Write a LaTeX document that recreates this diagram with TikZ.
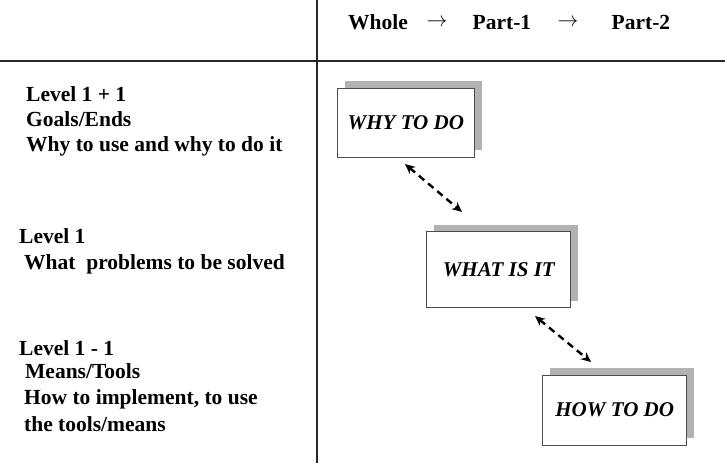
\documentclass[tikz,border=0pt]{standalone}
\usepackage{fontspec}
\setmainfont{Liberation Serif}
\usetikzlibrary{arrows.meta,shadows}
\begin{document}
\begin{tikzpicture}[x=1pt,y=-1pt,
  label/.style={anchor=base west,inner sep=0pt,font=\fontsize{21.5}{25}\selectfont\bfseries},
  headarrow/.style={inner sep=0pt,font=\fontsize{21}{24}\selectfont},
  levelbox/.style={draw=black!70,line width=0.9pt,fill=white,inner sep=0pt,
    font=\fontsize{21}{25}\selectfont\bfseries\itshape,
    drop shadow={shadow xshift=7.5pt,shadow yshift=7pt,fill=black!30,opacity=1}},
  link/.style={line width=2.4pt,dash pattern=on 7pt off 5pt,
    {Stealth[length=10pt,width=9pt]}-{Stealth[length=10pt,width=9pt]}},
  rule/.style={line width=1.8pt,black!85}]
\useasboundingbox (0,0) rectangle (725,463);

% table rules
\draw[rule] (317,0) -- (317,463);
\draw[rule] (0,61) -- (725,61);

% column header
\node[label] (whole) at (348,29) {Whole};
\node[headarrow] (ar1) at (437,23) {$\rightarrow$};
\node[label] (part1) at (472.5,29) {Part-1};
\node[headarrow] (ar2) at (568,23) {$\rightarrow$};
\node[label] (part2) at (611.5,29) {Part-2};

% level descriptions
\node[label] (l1a) at (26,101.7) {Level 1 + 1};
\node[label] (l1b) at (26,126) {Goals/Ends};
\node[label] (l1c) at (26,151.7) {Why to use and why to do it};

\node[label] (l2a) at (19,243.3) {Level 1};
\node[label] (l2b) at (24,269.3) {What\ \ problems to be solved};

\node[label] (l3a) at (19,355) {Level 1 - 1};
\node[label] (l3b) at (25,378.3) {Means/Tools};
\node[label] (l3c) at (24,404.3) {How to implement, to use};
\node[label] (l3d) at (24,431) {the tools/means};

% boxes
\node[levelbox,minimum width=137pt,minimum height=69pt] (why) at (405.8,122.8) {WHY TO DO};
\node[levelbox,minimum width=144pt,minimum height=76pt] (what) at (498.8,269.7) {WHAT IS IT};
\node[levelbox,minimum width=144pt,minimum height=70pt] (how) at (614.7,410) {HOW TO DO};

% links between the levels
\coordinate (w1) at (405,164);
\coordinate (w2) at (462,212);
\coordinate (h1) at (535,316);
\coordinate (h2) at (591,362);
\draw[link] (w1) -- (w2);
\draw[link] (h1) -- (h2);
\end{tikzpicture}
\end{document}
